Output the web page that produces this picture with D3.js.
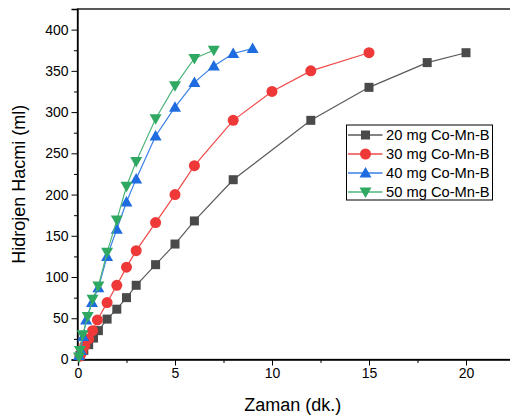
<!DOCTYPE html>
<html><head><meta charset="utf-8">
<script src="https://cdn.jsdelivr.net/npm/d3@7"></script>
<style>
body{margin:0;background:#fff;}
text{font-family:Arial,"Liberation Sans",sans-serif;}
</style></head>
<body><svg id="c" width="510" height="419"></svg>
<script>
const seriesNames = ["20 mg Co-Mn-B","30 mg Co-Mn-B","40 mg Co-Mn-B","50 mg Co-Mn-B"];
const x20 = [0.1, 0.3, 0.55, 0.8, 1.05, 1.5, 2, 2.5, 3, 4, 5, 6, 8, 12, 15, 18, 20];
const y20 = [5, 11, 18, 26, 35, 49, 61, 75, 90, 115, 140, 168, 218, 290, 330, 360, 372];
const x30 = [0.1, 0.2, 0.35, 0.55, 0.75, 1, 1.5, 2, 2.5, 3, 4, 5, 6, 8, 10, 12, 15];
const y30 = [4, 9, 17, 25, 35, 48, 69, 90, 112, 132, 166, 200, 235, 290, 325, 350, 372];
const x40 = [0.05, 0.15, 0.27, 0.42, 0.72, 1.05, 1.5, 2, 2.5, 3, 4, 5, 6, 7, 8, 9];
const y40 = [5, 11, 28, 48, 69, 87, 125, 158, 191, 219, 271, 306, 336, 356, 371, 377];
const x50 = [0.05, 0.1, 0.24, 0.5, 0.75, 1.05, 1.5, 2, 2.5, 3, 4, 5, 6, 7];
const y50 = [3, 11, 30, 52, 73, 89, 130, 169, 210, 240, 292, 332, 365, 375];
const xTicks = [0, 5, 10, 15, 20];
const yTicks = [0, 50, 100, 150, 200, 250, 300, 350, 400];
const xTitle = "Zaman (dk.)";
const yTitle = "Hidrojen Hacmi (ml)";

const markerColors = ["#4a4a4a", "#ef3838", "#1f6ce0", "#2fa862"];
const lineColors = ["#5a5a5a", "#f04a4a", "#3a80e6", "#4db57a"];
const symbols = ["square", "circle", "tri", "tridown"];

const data = [[x20,y20],[x30,y30],[x40,y40],[x50,y50]].map((p,i)=>({
  name: seriesNames[i], pts: p[0].map((x,j)=>({x, y:p[1][j]}))
}));

const svg = d3.select("#c");
const L = 77.5, T = 9, B = 359.5, R = 514.5;
const x = d3.scaleLinear().domain([0, 22.5]).range([78, R]);
const y = d3.scaleLinear().domain([0, 425]).range([B, T]);

function drawMarker(g, sym, color, cx, cy) {
  if (sym === "square") {
    g.append("rect").attr("x", cx-4.5).attr("y", cy-4.5).attr("width", 9).attr("height", 9).attr("fill", color);
  } else if (sym === "circle") {
    g.append("circle").attr("cx", cx).attr("cy", cy).attr("r", 5.5).attr("fill", color);
  } else if (sym === "tri") {
    g.append("path").attr("d", `M${cx},${cy-6} L${cx+6},${cy+4.5} L${cx-6},${cy+4.5}Z`).attr("fill", color);
  } else {
    g.append("path").attr("d", `M${cx},${cy+6} L${cx+6},${cy-4.5} L${cx-6},${cy-4.5}Z`).attr("fill", color);
  }
}

// frame (top + right off-image)
svg.append("rect").attr("x", L).attr("y", T).attr("width", R - L).attr("height", B - T)
  .attr("fill", "none").attr("stroke", "#000").attr("stroke-width", 1.3);

// axes
const xAxis = d3.axisBottom(x).tickValues(xTicks).tickSize(6).tickPadding(3).tickFormat(d3.format("d"));
const gx = svg.append("g").attr("transform", `translate(0,${B})`).call(xAxis);
const xMinor = d3.axisBottom(x).tickValues([2.5, 7.5, 12.5, 17.5, 22.5]).tickSize(3.5).tickFormat("");
svg.append("g").attr("transform", `translate(0,${B})`).call(xMinor).select(".domain").remove();
const yAxis = d3.axisLeft(y).tickValues(yTicks).tickSize(6).tickPadding(3);
const gy = svg.append("g").attr("transform", `translate(${L},0)`).call(yAxis);
const yMinor = d3.axisLeft(y).tickValues([25,75,125,175,225,275,325,375,425].filter(v=>v<=425)).tickSize(3.5).tickFormat("");
svg.append("g").attr("transform", `translate(${L},0)`).call(yMinor).select(".domain").remove();
svg.selectAll(".domain").attr("stroke", "#000").attr("stroke-width", 1.3);
svg.selectAll(".tick line").attr("stroke", "#000").attr("stroke-width", 1);
svg.selectAll(".tick text").attr("font-size", 14).attr("fill", "#000")
  .style("font-family", "Arial, 'Liberation Sans', sans-serif");

// titles
svg.append("text").attr("x", (L + 510) / 2 - 1).attr("y", 411).attr("text-anchor", "middle")
  .attr("font-size", 18).text(xTitle);
svg.append("text").attr("transform", `translate(25,${(T+B)/2}) rotate(-90)`).attr("text-anchor", "middle")
  .attr("font-size", 18).text(yTitle);

// series
const line = d3.line().x(d => x(d.x)).y(d => y(d.y));
data.forEach((s, i) => {
  const g = svg.append("g");
  g.append("path").datum(s.pts).attr("d", line).attr("fill", "none")
    .attr("stroke", lineColors[i]).attr("stroke-width", 1.2);
  s.pts.forEach(p => drawMarker(g, symbols[i], markerColors[i], x(p.x), y(p.y)));
});

// legend
const lg = svg.append("g");
lg.append("rect").attr("x", 346.5).attr("y", 125).attr("width", 146).attr("height", 75)
  .attr("fill", "#fff").attr("stroke", "#000").attr("stroke-width", 1);
seriesNames.forEach((n, i) => {
  const cy = 135 + i * 19;
  lg.append("line").attr("x1", 348).attr("x2", 382.5).attr("y1", cy).attr("y2", cy)
    .attr("stroke", lineColors[i]).attr("stroke-width", 1.3);
  drawMarker(lg, symbols[i], markerColors[i], 365.5, cy);
  lg.append("text").attr("x", 386).attr("y", cy + 5.2).attr("font-size", 14.7).text(n);
});
</script></body></html>
